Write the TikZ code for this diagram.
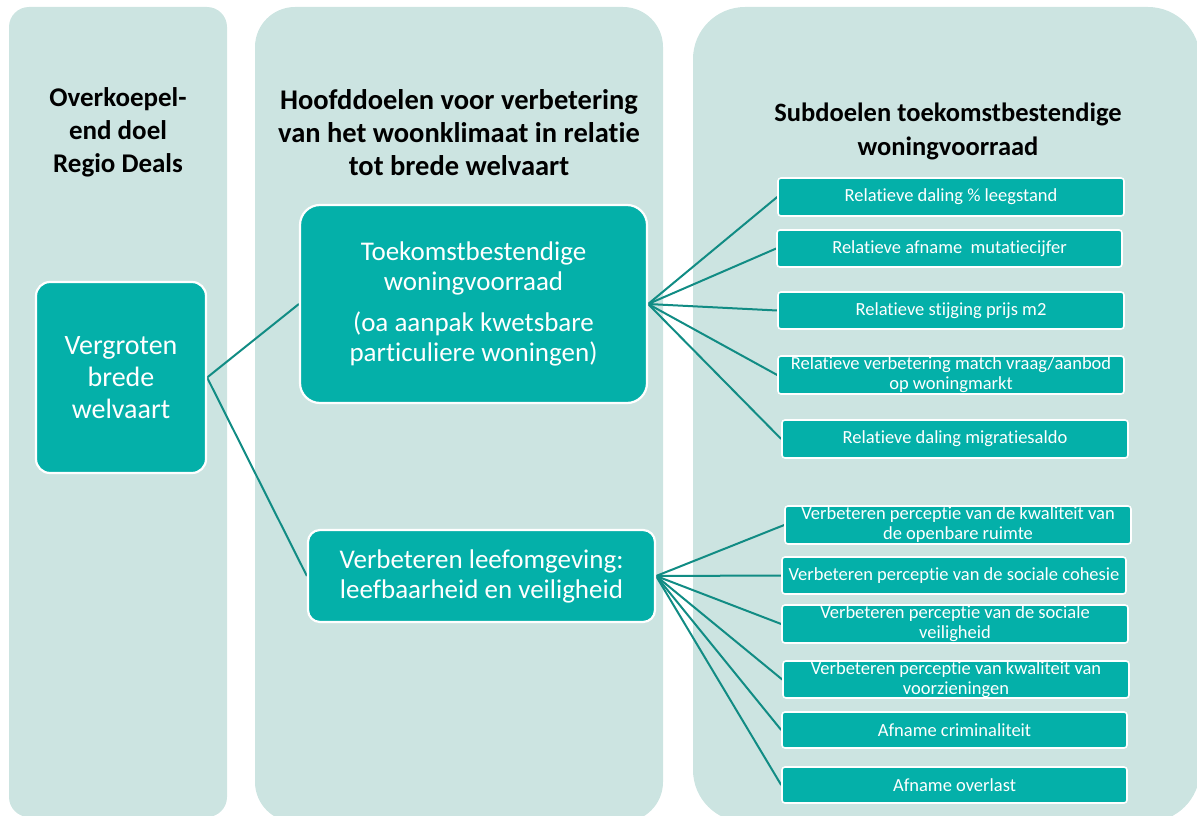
\documentclass[tikz,border=0pt]{standalone}
\usepackage{fontspec}
\setmainfont{Carlito}[Ligatures=CommonOff]
\pgfdeclarelayer{bg}
\pgfdeclarelayer{lk}
\pgfsetlayers{bg,lk,main}
\definecolor{panelbg}{RGB}{204,228,225}
\definecolor{boxteal}{RGB}{4,176,169}
\definecolor{linkcol}{RGB}{17,140,132}
\begin{document}
\begin{tikzpicture}[x=1pt,y=-1pt,
  panel/.style={fill=panelbg,draw=none},
  header/.style={align=center,inner sep=0pt,text=black},
  mainbox/.style={draw=white,line width=2.2pt,fill=boxteal,text=white,align=center,inner sep=0pt},
  subbox/.style={draw=white,line width=1.6pt,fill=boxteal,text=white,align=center,inner sep=0pt,
    rounded corners=3pt,font=\fontsize{18.5}{20}\selectfont},
  link/.style={draw=linkcol,line width=2pt}]
\useasboundingbox (0,0) rectangle (1197,816);
\begin{pgfonlayer}{bg}
\fill[panel,rounded corners=20pt] (9,7) rectangle (227,817);
\fill[panel,rounded corners=40pt] (255,7) rectangle (663,822);
\fill[panel,rounded corners=52pt] (693,7) rectangle (1200,822);
\end{pgfonlayer}
% headers
\node[header,font=\bfseries\fontsize{27}{33}\selectfont] (h1) at (118,132) {Overkoepel-\\end doel\\Regio Deals};
\node[header,font=\bfseries\fontsize{28.5}{33}\selectfont] (h2) at (459,133) {Hoofddoelen voor verbetering\\van het woonklimaat in relatie\\tot brede welvaart};
\node[header,font=\bfseries\fontsize{26.5}{34}\selectfont] (h3) at (948,131) {Subdoelen toekomstbestendige\\woningvoorraad};
% main boxes
\node[mainbox,rounded corners=14pt,minimum width=170pt,minimum height=191pt,
  font=\fontsize{28}{32}\selectfont] (verg) at (121,377.5) {Vergroten\\brede\\welvaart};
\node[mainbox,rounded corners=20pt,minimum width=347pt,minimum height=198pt,
  font=\fontsize{27}{30}\selectfont] (toek) at (473.5,304)
  {Toekomstbestendige\\woningvoorraad\\[11pt](oa aanpak kwetsbare\\particuliere woningen)};
\node[mainbox,rounded corners=12pt,minimum width=347pt,minimum height=92pt,
  font=\fontsize{27}{30}\selectfont] (leef) at (481.5,576)
  {Verbeteren leefomgeving:\\leefbaarheid en veiligheid};
% sub boxes
\node[subbox,minimum width=346pt,minimum height=38pt] (s1) at (951,197) {Relatieve daling \% leegstand};
\node[subbox,minimum width=345pt,minimum height=37pt] (s2) at (949.5,248.5) {Relatieve afname~ mutatiecijfer};
\node[subbox,minimum width=346pt,minimum height=37pt] (s3) at (951,310.5) {Relatieve stijging prijs m2};
\node[subbox,minimum width=346pt,minimum height=38pt] (s4) at (951,375) {Relatieve verbetering match vraag/aanbod\\op woningmarkt};
\node[subbox,minimum width=346pt,minimum height=38pt] (s5) at (955,439) {Relatieve daling migratiesaldo};
\node[subbox,minimum width=346pt,minimum height=38pt] (s6) at (958,525) {Verbeteren perceptie van de kwaliteit van\\de openbare ruimte};
\node[subbox,minimum width=344pt,minimum height=37pt] (s7) at (954,575.5) {Verbeteren perceptie van de sociale cohesie};
\node[subbox,minimum width=346pt,minimum height=38pt] (s8) at (955,624) {Verbeteren perceptie van de sociale\\veiligheid};
\node[subbox,minimum width=346pt,minimum height=37pt] (s9) at (956,679.5) {Verbeteren perceptie van kwaliteit van\\voorzieningen};
\node[subbox,minimum width=345pt,minimum height=36pt] (s10) at (954.5,730) {Afname criminaliteit};
\node[subbox,minimum width=345pt,minimum height=36pt] (s11) at (954.5,785) {Afname overlast};
% links
\begin{pgfonlayer}{lk}
\draw[link] (verg.east) -- (toek.west);
\draw[link] (verg.east) -- (leef.west);
\foreach \s in {s1,s2,s3,s4,s5} {\draw[link] (toek.east) -- (\s.west);}
\foreach \s in {s6,s7,s8,s9,s10,s11} {\draw[link] (leef.east) -- (\s.west);}
\end{pgfonlayer}
\end{tikzpicture}
\end{document}
